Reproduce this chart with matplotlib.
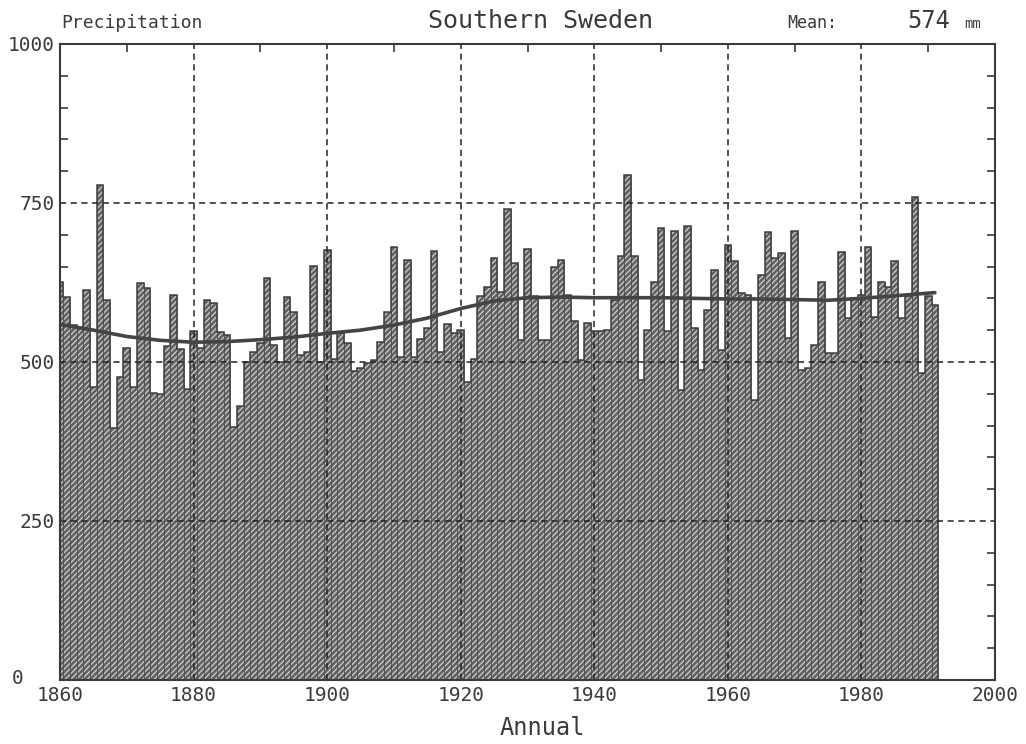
import matplotlib
matplotlib.use('Agg')
import matplotlib.pyplot as plt
import numpy as np

# annual precipitation, southern Sweden (mm)
years = list(range(1860, 1992))
precip = [
    625, 602, 558, 555, 613, 461, 778, 598, 396, 476,
    522, 461, 624, 616, 451, 449, 525, 606, 520, 458,
    548, 522, 598, 593, 547, 542, 398, 430, 500, 515,
    530, 632, 527, 500, 602, 579, 511, 515, 651, 500,
    676, 504, 545, 530, 485, 490, 498, 503, 531, 579,
    680, 508, 660, 508, 536, 553, 675, 515, 559, 545,
    550, 469, 504, 603, 618, 663, 610, 741, 655, 535,
    677, 604, 535, 535, 650, 660, 606, 565, 503, 561,
    548, 548, 550, 597, 666, 794, 666, 472, 551, 626,
    710, 548, 706, 456, 714, 553, 487, 581, 645, 519,
    684, 658, 608, 605, 440, 637, 705, 663, 672, 537,
    706, 487, 490, 527, 626, 514, 514, 673, 569, 600,
    605, 681, 571, 626, 618, 658, 569, 603, 759, 482,
    604, 590,
]

# smoothed curve
smooth_years = [1860, 1865, 1870, 1875, 1880, 1885, 1890, 1895, 1900, 1905,
                1910, 1915, 1920, 1925, 1930, 1935, 1940, 1945, 1950, 1955,
                1960, 1965, 1970, 1975, 1980, 1985, 1991]
smooth_vals = [559, 550, 540, 534, 531, 532, 535, 539, 545, 550,
               558, 569, 584, 596, 601, 602, 601, 601, 601, 600,
               599, 599, 598, 597, 600, 604, 609]

mean_val = 574

plt.rcParams['hatch.linewidth'] = 0.9
mono = 'DejaVu Sans Mono'
ink = '#3a3a3a'

fig = plt.figure(figsize=(10.26, 7.44), dpi=100)
ax = fig.add_axes([0.0585, 0.086, 0.9113, 0.855])

ax.bar(years, precip, width=1.0, color='#626262', edgecolor='#cfcfcf',
       hatch='//////', linewidth=0, zorder=2)
# thin column separators
ax.bar(years, precip, width=1.0, fill=False, edgecolor='#4c4c4c',
       linewidth=0.45, zorder=3)
# outline of the bar tops, like the plotter drew it
edges = np.arange(years[0] - 0.5, years[-1] + 1.5, 1.0)
ax.stairs(precip, edges, baseline=0, color='#404040', lw=1.1, zorder=3)

ax.plot(smooth_years, smooth_vals, color='#444444', lw=2.6, zorder=5,
        solid_capstyle='round')

ax.set_xlim(1860, 2000)
ax.set_ylim(0, 1000)
ax.set_xticks(range(1860, 2001, 20))
ax.set_yticks([0, 250, 500, 750, 1000])
ax.set_xticks(range(1860, 2001, 10), minor=True)
ax.set_yticks(range(0, 1001, 50), minor=True)
ax.tick_params(which='major', length=0, pad=4, labelsize=14, colors=ink)
ax.tick_params(which='minor', direction='in', length=6, width=1.2,
               top=True, right=True, color=ink)
ax.set_yticklabels(['', '250', '500', '750', '1000'])
for lab in ax.get_xticklabels() + ax.get_yticklabels():
    lab.set_family(mono)
# the zero sits off to the left, clear of 1860
fig.text(12 / 1026, 1 - 684 / 744, '0', family=mono, fontsize=14, color=ink,
         va='baseline')

for x in range(1880, 2000, 20):
    ax.axvline(x, color='#222222', lw=1.1, ls=(0, (4, 3)), zorder=4)
for y in (250, 500, 750):
    ax.axhline(y, color='#222222', lw=1.1, ls=(0, (4, 3)), zorder=4)

for sp in ax.spines.values():
    sp.set_color(ink)
    sp.set_linewidth(1.5)
    sp.set_zorder(6)

fig.text(0.060, 0.962, 'Precipitation', family=mono, fontsize=13, color=ink,
         va='baseline')
fig.text(0.527, 0.963, 'Southern Sweden', family=mono, fontsize=18, color=ink,
         ha='center', va='baseline')
fig.text(0.767, 0.962, 'Mean:', family=mono, fontsize=12, color=ink,
         va='baseline')
fig.text(0.926, 0.963, str(mean_val), family=mono, fontsize=17, color=ink,
         ha='right', va='baseline')
fig.text(0.940, 0.962, 'mm', family=mono, fontsize=10, color=ink,
         va='baseline')
fig.text(0.5285, 0.012, 'Annual', family=mono, fontsize=17, color=ink,
         ha='center', va='baseline')

fig.savefig('out.png', dpi=100)
